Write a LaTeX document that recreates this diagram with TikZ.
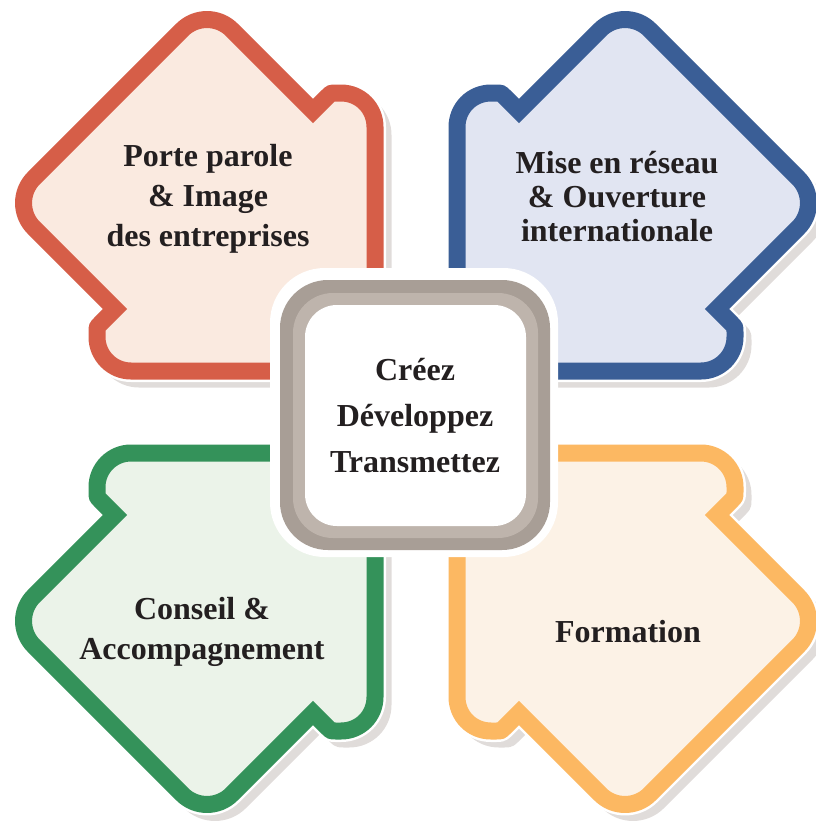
\documentclass[tikz,border=0pt]{standalone}
\usepackage{fontspec}
\setmainfont{Liberation Serif}

\definecolor{petalRed}{RGB}{214,94,72}
\definecolor{petalRedFill}{RGB}{250,234,224}
\definecolor{petalBlue}{RGB}{58,94,150}
\definecolor{petalBlueFill}{RGB}{225,229,242}
\definecolor{petalGreen}{RGB}{52,146,90}
\definecolor{petalGreenFill}{RGB}{235,243,233}
\definecolor{petalOrange}{RGB}{252,184,98}
\definecolor{petalOrangeFill}{RGB}{252,242,230}
\definecolor{shadowGrey}{RGB}{224,220,218}
\definecolor{hubDark}{RGB}{168,158,150}
\definecolor{hubLight}{RGB}{190,180,172}
\definecolor{labelInk}{RGB}{35,31,32}

\tikzset{every picture/.style={line width=0.75pt}}
\tikzset{
  % one petal, drawn for the upper left quarter, relative to the centre
  petal path/.style={insert path={(-41,-41) -- (-285,-41)
    .. controls (-303.7,-41) and (-319,-56.3) .. (-319,-75) -- (-319,-80)
    .. controls (-319,-85) .. (-315.5,-88.5) -- (-301,-103) -- (-382.25,-184.25)
    .. controls (-395.86,-197.86) and (-395.86,-220.14) .. (-382.25,-233.75) -- (-233.75,-382.25)
    .. controls (-220.14,-395.86) and (-197.86,-395.86) .. (-184.25,-382.25) -- (-103,-301) -- (-88.5,-315.5)
    .. controls (-85,-319) .. (-80,-319) -- (-75,-319)
    .. controls (-55.7,-319) and (-41,-303.7) .. (-41,-285) -- cycle}},
  petal shadow/.style={draw=shadowGrey, fill=shadowGrey, line width=12.75pt, line join=round},
  petal halo/.style={draw=white, line width=16.5pt, line join=round},
  petal/.style={line width=12.75pt, line join=miter},
  petal text/.style={align=center, text=labelInk, inner sep=0pt,
    font=\fontsize{24}{30}\selectfont\bfseries},
}

\begin{document}
\begin{tikzpicture}[x=0.75pt,y=0.75pt,yscale=-1,xscale=1]
\useasboundingbox (0,0) rectangle (816,829);

%Shadows
\foreach \sx/\sy in {1/1,-1/1,1/-1,-1/-1}{
  \begin{scope}[shift={(424,420)}, xscale=\sx, yscale=\sy]
    \draw [petal shadow, petal path];
  \end{scope}
}
%Petals
\foreach \sx/\sy/\edge/\inside in {1/1/petalRed/petalRedFill, -1/1/petalBlue/petalBlueFill,
    1/-1/petalGreen/petalGreenFill, -1/-1/petalOrange/petalOrangeFill}{
  \begin{scope}[shift={(416,412)}, xscale=\sx, yscale=\sy]
    \draw [petal halo, petal path];
    \draw [petal, draw=\edge, fill=\inside, petal path];
  \end{scope}
}

%Centre box
\draw [fill=white, draw=none, rounded corners=41pt] (270,268) rectangle (558,557);
\draw [fill=hubDark, draw=none, rounded corners=36pt] (280,280) rectangle (550,550);
\draw [fill=hubLight, draw=none, rounded corners=30pt] (293,293) rectangle (538,538);
\draw [fill=white, draw=none, rounded corners=24pt] (305,305) rectangle (526,526);

% Text Node
\node [petal text] (image) at (208,199) {Porte parole\\\& Image\\des entreprises};
% Text Node
\node [petal text, font=\fontsize{24}{25.5}\selectfont\bfseries] (reseau) at (617,197) {Mise en réseau\\\& Ouverture\\internationale};
% Text Node
\node [petal text] (conseil) at (202,632) {Conseil \&\\Accompagnement};
% Text Node
\node [petal text] (formation) at (628,632) {Formation};
% Text Node
\node [petal text, font=\fontsize{24}{34.5}\selectfont\bfseries] (hub) at (415,416) {Créez\\Développez\\Transmettez};

\end{tikzpicture}
\end{document}
